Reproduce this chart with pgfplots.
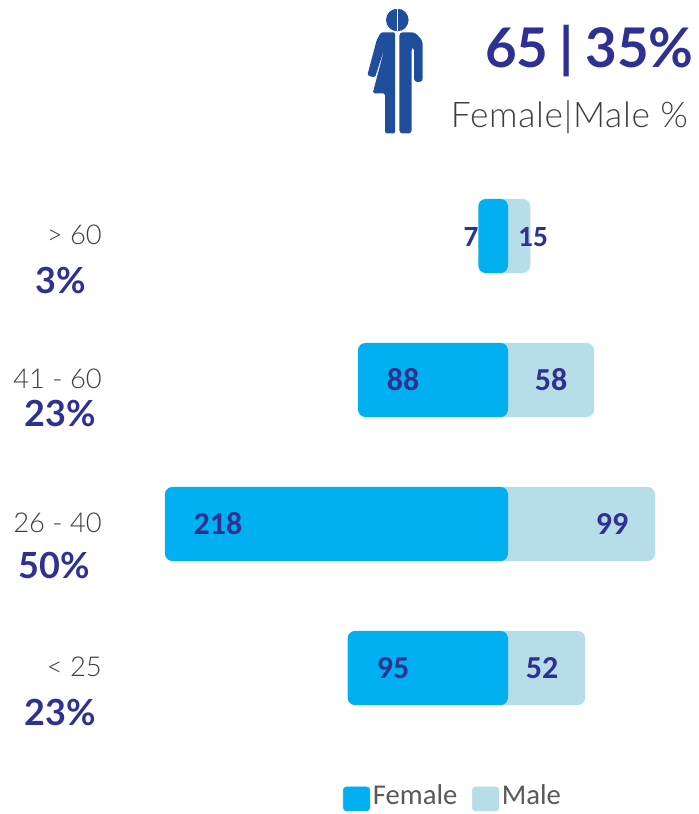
\documentclass[border=0pt]{standalone}
\usepackage{pgfplots}
\usepackage{pgfplotstable}
\usepackage{fontspec}
\pgfplotsset{compat=1.18}
\setmainfont{Lato}
\newfontfamily\carl{Carlito}
\newfontfamily\lt[LetterSpace=2]{Lato Light}
\newfontfamily\ltc{Lato Light}
\definecolor{fem}{HTML}{00B0F0}
\definecolor{mal}{HTML}{B7DEE8}
\definecolor{navy}{HTML}{2E3192}
\definecolor{gr}{HTML}{595959}
\definecolor{icon}{HTML}{1F4E9C}
\pgfplotstableread{
y v
3 7
2 88
1 218
0 95
}\femaledata
\pgfplotstableread{
y v
3 15
2 58
1 99
0 52
}\maledata
\begin{document}
\begin{tikzpicture}
\begin{axis}[
  scale only axis, width=523.5pt, height=610.5pt,
  xmin=-342.09, xmax=127.95, ymin=-1.0139, ymax=4.6389,
  axis line style={draw=none}, tick style={draw=none},
  xtick=\empty, ytick={0,1,2,3},
  yticklabels={{< 25},{26 - 40},{41 - 60},{> 60}},
  yticklabel style={anchor=east, xshift=76.5pt, yshift=0.5pt, font=\ltc\fontsize{20.5}{20.5}\selectfont, text=gr!70!black, inner sep=0pt},
  clip=false,
  legend style={at={(343/698,0.0035)}, anchor=south west, draw=none, fill=none, inner sep=0pt, outer sep=0pt, legend columns=2, font=\carl\fontsize{21.5}{21.5}\selectfont\color{gr}, nodes={text depth=0pt}, /tikz/every even column/.append style={column sep=9pt}},
  legend image code/.code={\fill[#1, rounded corners=2.5pt] (0pt,-12pt) rectangle (20pt,6pt);},
]
\addlegendimage{fem}
\addlegendimage{mal}
\addplot[xbar, xshift=-10pt, bar width=55.5pt, bar shift=0pt, fill=mal, draw=none, rounded corners=5.5pt, forget plot] table[x expr=\thisrow{v}+8.98, y=y] {\maledata};
\addplot[xbar, bar width=55.5pt, bar shift=0pt, fill=fem, draw=none, rounded corners=5.5pt, forget plot] table[x expr=-(\thisrow{v}+13), y=y] {\femaledata};
\legend{Female,Male}
\end{axis}
\begin{scope}[x=0.75pt,y=-0.75pt,yshift=610.5pt]
  % icon
  \fill[icon] (397.3,20) circle (11.3);
  \fill[icon, rounded corners=2.5pt] (399.3,32.3) -- (415,32.3) -- (422.7,41) -- (422.7,82) -- (414,82) -- (414,47) -- (411.7,47) -- (411.7,133.5) -- (399.3,133.5) -- cycle;
  \fill[icon, rounded corners=1.2pt] (395.2,32.3) -- (381,32.3) -- (376.7,40) -- (367.3,75.5) -- (375,77.5) -- (385,46.7) -- (372.7,93.3) -- (385,93.3) -- (385,133.5) -- (395.2,133.5) -- cycle;
  \fill[white] (396.7,8) rectangle (397.9,31);
  % header
  \node[anchor=base east, inner sep=0pt, text=navy, font=\bfseries\fontsize{41}{41}\selectfont] at (694,68) {65\hspace{8.5pt}|\hspace{8.5pt}35\%};
  \node[anchor=base east, inner sep=0pt, text=gr!70!black, font=\lt\fontsize{26.5}{26.5}\selectfont] at (688,128) {Female|Male \%};
  % shares
  \foreach \t/\xx/\yy in {3\%/86.5/294,23\%/96.5/427,50\%/90.5/579,23\%/96.5/726}
    \node[anchor=base east, inner sep=0pt, text=navy, font=\bfseries\fontsize{27}{27}\selectfont] at (\xx,\yy) {\t};
  % values
  \foreach \t/\xx/\yy in {88/403/391,58/551/391,218/218/535,99/612/535,95/393/679,52/542/679}
    \node[anchor=base, inner sep=0pt, text=navy, font=\carl\bfseries\fontsize{24}{24}\selectfont] at (\xx,\yy) {\t};
  \foreach \t/\xx/\yy in {7/471/247,15/533/247}
    \node[anchor=base, inner sep=0pt, text=navy, font=\carl\bfseries\fontsize{22}{22}\selectfont] at (\xx,\yy) {\t};
\end{scope}
\end{tikzpicture}
\end{document}
